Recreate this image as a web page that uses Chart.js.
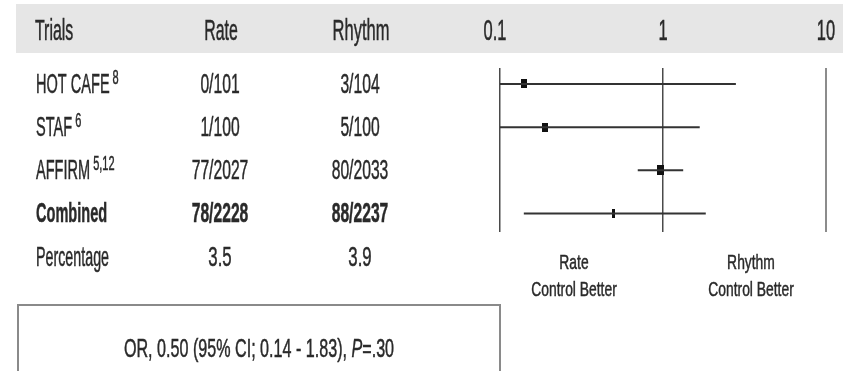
<!DOCTYPE html>
<html>
<head>
<meta charset="utf-8">
<script src="https://cdn.jsdelivr.net/npm/chart.js@4"></script>
<style>
  html, body { margin: 0; padding: 0; background: #ffffff; }
  canvas { display: block; }
</style>
</head>
<body>
<canvas id="forest" width="846" height="371"></canvas>
<script>
// Trials and their event counts (events / patients)
const trials = ['HOT CAFE', 'STAF', 'AFFIRM', 'Combined'];
const trialRefs = ['8', '6', '5,12', ''];
const rateEvents = ['0/101', '1/100', '77/2027', '78/2228'];
const rhythmEvents = ['3/104', '5/100', '80/2033', '88/2237'];
const percentRate = '3.5';
const percentRhythm = '3.9';

// Odds ratios with 95% confidence limits
const oddsRatio = [0.14, 0.19, 0.96, 0.50];
const ciLower = [0.007, 0.02, 0.70, 0.14];
const ciUpper = [2.80, 1.68, 1.33, 1.83];

// Log axis ticks
const tickValues = [0.1, 1, 10];
const tickLabels = ['0.1', '1', '10'];

const summaryText = ['OR, 0.50 (95% CI; 0.14 - 1.83), ', 'P', '=.30'];

const FONT = '"Liberation Sans", Arial, sans-serif';
const INK = '#2a2a2a';

// marker images: wider squares for trials, a thin tick for the pooled estimate
function markerImage(w, h) {
  const c = document.createElement('canvas');
  c.width = w; c.height = h;
  const g = c.getContext('2d');
  g.fillStyle = '#111';
  g.fillRect(0, 0, w, h);
  return c;
}
const markerStyles = [markerImage(6, 9), markerImage(6, 9), markerImage(7, 10), markerImage(3, 9)];

// condensed text: draw with a horizontal squeeze and a light outline for weight
function text(ctx, str, x, y, size, sx, align, weight, style) {
  ctx.save();
  ctx.font = (style || '') + ' ' + (weight || 'normal') + ' ' + size + 'px ' + FONT;
  ctx.textAlign = align || 'left';
  ctx.textBaseline = 'alphabetic';
  ctx.fillStyle = INK;
  ctx.strokeStyle = INK;
  ctx.lineWidth = 0.5;
  ctx.translate(x, y);
  ctx.scale(sx, 1);
  ctx.fillText(str, 0, 0);
  ctx.strokeText(str, 0, 0);
  const w = ctx.measureText(str).width * sx;
  ctx.restore();
  return w;
}

const tablePlugin = {
  id: 'forestTable',
  beforeDraw(chart) {
    const ctx = chart.ctx;
    ctx.save();
    ctx.fillStyle = '#e6e6e6';
    ctx.fillRect(16, 4, 827, 49);
    ctx.restore();
  },
  afterDraw(chart) {
    const ctx = chart.ctx;
    const xs = chart.scales.x;
    const ys = chart.scales.y;

    // header row
    const hb = 40;
    text(ctx, 'Trials', 35, hb, 30, 0.53, 'left');
    text(ctx, 'Rate', 221, hb, 30, 0.53, 'center');
    text(ctx, 'Rhythm', 361, hb, 30, 0.55, 'center');
    tickValues.forEach((v, i) => {
      text(ctx, tickLabels[i], xs.getPixelForValue(v) - (i === 0 ? 5 : 0), hb, 30, 0.55, 'center');
    });

    // trial rows
    trials.forEach((name, i) => {
      const base = ys.getPixelForValue(i) + 9;
      const bold = name === 'Combined' ? 'bold' : 'normal';
      const w = text(ctx, name, 36, base, 28, 0.52, 'left', bold);
      if (trialRefs[i]) text(ctx, trialRefs[i], 36 + w + 3, base - 9, 20, 0.55, 'left');
      text(ctx, rateEvents[i], 220, base, 28, 0.56, 'center', bold);
      text(ctx, rhythmEvents[i], 360, base, 28, 0.56, 'center', bold);
    });
    const pb = ys.getPixelForValue(trials.length) + 9;
    text(ctx, 'Percentage', 36, pb, 28, 0.51, 'left');
    text(ctx, percentRate, 220, pb, 28, 0.6, 'center');
    text(ctx, percentRhythm, 360, pb, 28, 0.6, 'center');

    // direction labels under the axis
    text(ctx, 'Rate', 574, 269, 21, 0.66, 'center');
    text(ctx, 'Control Better', 574, 296, 21, 0.66, 'center');
    text(ctx, 'Rhythm', 751, 269, 21, 0.66, 'center');
    text(ctx, 'Control Better', 751, 296, 21, 0.66, 'center');

    // summary box
    ctx.save();
    ctx.strokeStyle = '#8a8a8a';
    ctx.lineWidth = 2;
    ctx.strokeRect(18, 305, 482, 90);
    ctx.restore();
    const sx = 0.62, sz = 26, sb = 357;
    ctx.save();
    ctx.font = sz + 'px ' + FONT;
    const w0 = ctx.measureText(summaryText[0]).width * sx;
    ctx.font = 'italic ' + sz + 'px ' + FONT;
    const w1 = ctx.measureText(summaryText[1]).width * sx;
    ctx.font = sz + 'px ' + FONT;
    const w2 = ctx.measureText(summaryText[2]).width * sx;
    ctx.restore();
    let x0 = 259 - (w0 + w1 + w2) / 2;
    x0 += text(ctx, summaryText[0], x0, sb, sz, sx, 'left');
    x0 += text(ctx, summaryText[1], x0, sb, sz, sx, 'left', 'normal', 'italic');
    text(ctx, summaryText[2], x0, sb, sz, sx, 'left');
  }
};

const ciSets = trials.map((t, i) => ({
  type: 'line',
  label: t,
  data: [{ x: ciLower[i], y: i }, { x: ciUpper[i], y: i }],
  borderColor: '#333',
  borderWidth: 2,
  pointRadius: 0,
  fill: false
}));

const pointSet = {
  type: 'scatter',
  label: 'Odds ratio',
  data: trials.map((t, i) => ({ x: oddsRatio[i], y: i })),
  pointStyle: markerStyles,
  pointRadius: 5
};

new Chart(document.getElementById('forest'), {
  data: { datasets: [...ciSets, pointSet] },
  options: {
    responsive: false,
    animation: false,
    devicePixelRatio: 1,
    layout: { padding: { left: 500, right: 20, top: 68, bottom: 139 } },
    plugins: { legend: { display: false }, tooltip: { enabled: false } },
    scales: {
      x: {
        type: 'logarithmic',
        min: 0.1,
        max: 10,
        afterBuildTicks(scale) { scale.ticks = tickValues.map(v => ({ value: v })); },
        ticks: { display: false },
        border: { display: false },
        grid: {
          drawTicks: false,
          color: c => (c.tick && c.tick.value === 10 ? '#8c8c8c' : '#4a4a4a'),
          lineWidth: c => (c.tick && c.tick.value === 10 ? 2 : 1.5)
        }
      },
      y: {
        type: 'linear',
        min: -0.37,
        max: 3.43,
        reverse: true,
        display: false
      }
    }
  },
  plugins: [tablePlugin]
});
</script>
</body>
</html>
